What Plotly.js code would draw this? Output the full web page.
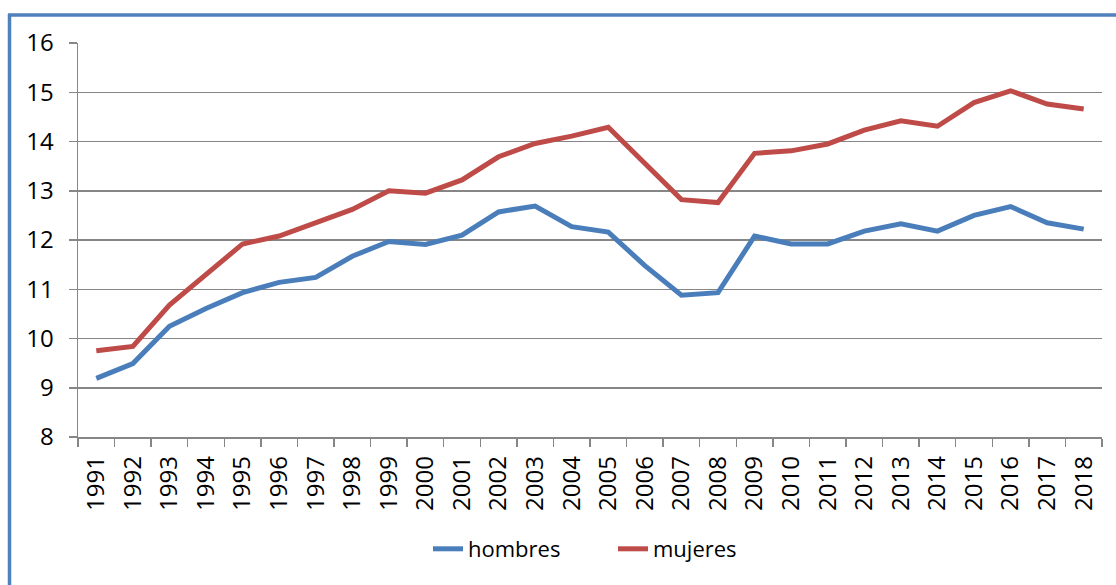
<!DOCTYPE html>
<html>
<head>
<meta charset="utf-8">
<script src="https://cdn.plot.ly/plotly-3.0.1.min.js"></script>
<style>
html,body{margin:0;padding:0;background:#fff;}
#chart{width:1116px;height:585px;}
</style>
</head>
<body>
<div id="chart"></div>
<script>
var years = ["1991","1992","1993","1994","1995","1996","1997","1998","1999","2000","2001","2002","2003","2004","2005","2006","2007","2008","2009","2010","2011","2012","2013","2014","2015","2016","2017","2018"];
var hombres = [9.19,9.49,10.25,10.61,10.93,11.14,11.24,11.67,11.97,11.91,12.1,12.57,12.69,12.27,12.16,11.48,10.88,10.93,12.08,11.92,11.92,12.18,12.33,12.18,12.5,12.68,12.35,12.22];
var mujeres = [9.75,9.84,10.68,11.29,11.92,12.08,12.35,12.62,13.0,12.95,13.22,13.69,13.96,14.11,14.29,13.57,12.82,12.76,13.76,13.81,13.95,14.23,14.42,14.31,14.79,15.03,14.76,14.66];
var yTicks = [8,9,10,11,12,13,14,15,16];

var W = 1116, H = 585, L = 78, R = 14, T = 43, B = 148;
var pw = W - L - R, ph = H - T - B;
function px2x(p){ return (p - L) / pw; }
function py2y(p){ return (H - B - p) / ph; }

var fam = "'Open Sans', 'Noto Sans', sans-serif";
var tickFont = {family: fam, size: 24, color: "#000"};
var legFont = {family: fam, size: 22, color: "#000"};
var traces = [
  {x: years, y: hombres, name: "hombres", type: "scatter", mode: "lines",
   line: {color: "#4A7EBB", width: 5}},
  {x: years, y: mujeres, name: "mujeres", type: "scatter", mode: "lines",
   line: {color: "#BE4B48", width: 5}}
];
var layout = {
  width: W, height: H,
  margin: {l: L, r: R, t: T, b: B, pad: 0},
  paper_bgcolor: "#fff", plot_bgcolor: "#fff",
  font: legFont,
  showlegend: true,
  legend: {orientation: "h", x: px2x(428), xanchor: "left", y: py2y(549), yanchor: "middle",
           font: legFont, tracegroupgap: 0, entrywidth: 140, entrywidthmode: "pixels"},
  xaxis: {type: "category", range: [-0.5, 27.5], tickangle: -90, ticks: "outside", tickson: "boundaries",
          ticklen: 8, tickcolor: "#868686", tickwidth: 1.5, showline: true, linecolor: "#868686", linewidth: 1.5,
          showgrid: false, tickfont: tickFont, ticklabelstandoff: 8, fixedrange: true},
  yaxis: {range: [8, 16], tickvals: yTicks, ticks: "outside", ticklen: 8, tickcolor: "#868686", tickwidth: 1.5,
          showline: true, linecolor: "#868686", linewidth: 1.5, showgrid: true, gridcolor: "#868686", gridwidth: 1.5,
          zeroline: false, tickfont: tickFont, ticklabelstandoff: 10, fixedrange: true},
  shapes: [
    {type: "line", xref: "paper", yref: "paper", x0: px2x(9.5), x1: px2x(9.5), y0: py2y(14), y1: py2y(600),
     line: {color: "#4F81BD", width: 3.5}},
    {type: "line", xref: "paper", yref: "paper", x0: px2x(8), x1: px2x(1130), y0: py2y(15), y1: py2y(15),
     line: {color: "#4F81BD", width: 3.5}}
  ]
};
Plotly.newPlot("chart", traces, layout, {displayModeBar: false, staticPlot: true});
</script>
</body>
</html>
